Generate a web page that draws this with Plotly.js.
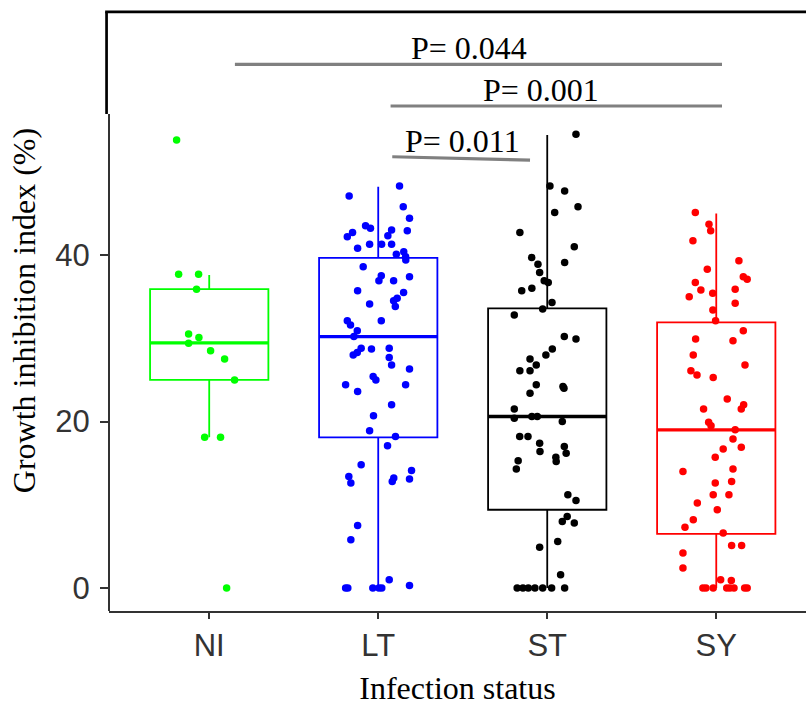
<!DOCTYPE html>
<html>
<head>
<meta charset="utf-8">
<script src="https://cdn.plot.ly/plotly-3.0.1.min.js"></script>
<style>html,body{margin:0;padding:0;background:#fff;}#chart{width:806px;height:706px;}</style>
</head>
<body>
<div id="chart"></div>
<script>
// ---- data ----
const categories = ['NI', 'LT', 'ST', 'SY'];
const groupColors = ['#00FF00', '#0000FF', '#000000', '#FF0000'];

const niValues = [53.8, 37.7, 37.7, 35.9, 30.5, 30.1, 29.4, 28.5, 27.5, 25.0, 18.1, 18.1, 0];
const niJitter = [-0.193, -0.181, -0.063, -0.075, -0.122, -0.061, -0.122, 0.008, 0.091, 0.150, -0.027, 0.067, 0.103];

const ltValues = [48.3, 47.1, 45.8, 44.4, 42.9, 43.5, 43.2, 43.0, 42.7, 42.2, 42.3, 41.3, 41.3, 41.3, 40.8, 40.1, 40.4, 39.8, 39.4, 38.6,
  37.5, 36.9, 36.9, 37.4, 35.7, 35.5, 34.8, 34.5, 33.8, 34.1, 32.1, 32.1, 31.6, 30.9, 30.2, 28.8, 28.7, 28.8, 28.3, 28.0,
  27.7, 26.8, 26.3, 25.4, 25.0, 24.4, 23.6, 24.4, 22.0, 20.7, 18.9, 18.2, 17.1, 14.8, 13.4, 12.6, 12.8, 13.2, 14.1, 13.1,
  7.5, 5.8, 1.0, 0.3, 0, 0, 0, 0, 0];
const ltJitter = [0.126, -0.172, 0.148, 0.185, 0.172, -0.075, -0.046, 0.079, -0.152, -0.183, 0.057, -0.051, 0.020, 0.079, -0.122, 0.107, 0.151, 0.162, 0.163, -0.089,
  0.018, 0.004, 0.091, 0.185, -0.122, 0.150, 0.112, 0.091, 0.101, -0.051, 0.018, -0.183, -0.164, -0.124, -0.144, -0.101, -0.040, 0.065, -0.124, -0.148,
  0.065, 0.079, 0.185, -0.030, -0.014, -0.193, -0.122, 0.162, 0.079, -0.028, -0.051, 0.102, 0.055, -0.101, -0.174, -0.162, 0.083, 0.092, 0.197, 0.185,
  -0.122, -0.162, 0.065, 0.185, -0.193, -0.180, -0.032, 0.004, 0.021];

const stValues = [54.5, 48.3, 47.7, 45.8, 45.1, 42.7, 41.0, 39.7, 39.1, 38.9, 37.9, 36.9, 36.7, 36.0, 35.7, 34.3, 33.5, 32.8, 30.2, 29.9,
  28.7, 28.0, 27.5, 26.8, 26.1, 26.1, 24.4, 24.2, 24.0, 23.4, 21.5, 20.4, 20.6, 20.6, 20.0, 18.2, 18.2, 17.4, 16.4, 17.0,
  16.2, 15.7, 15.2, 15.3, 14.3, 11.2, 10.5, 8.6, 8.0, 7.8, 5.6, 4.9, 1.6, 0, 0, 0, 0, 0, 0, 0];
const stJitter = [0.170, 0.016, 0.103, 0.182, 0.044, -0.162, 0.160, -0.092, 0.103, -0.055, -0.045, -0.018, 0.006, -0.091, -0.151, 0.028, -0.027, -0.195, 0.101, 0.170,
  0.030, -0.008, -0.102, -0.065, -0.162, -0.102, -0.065, 0.093, 0.099, -0.102, -0.195, -0.195, -0.091, -0.059, 0.089, -0.163, -0.114, -0.045, -0.043, 0.101,
  0.112, 0.051, 0.053, -0.172, -0.183, 0.122, 0.170, 0.118, 0.089, 0.160, 0.062, -0.045, 0.079, -0.178, -0.144, -0.112, -0.073, -0.027, 0.026, 0.103];

const syValues = [45.1, 43.7, 42.9, 41.7, 39.3, 38.3, 37.4, 37.1, 36.7, 35.9, 35.8, 35.4, 35.0, 34.2, 33.4, 32.1, 30.9, 29.9, 29.7, 28.0,
  26.8, 26.1, 25.6, 25.3, 22.7, 22.0, 21.5, 21.5, 19.9, 19.5, 19.0, 17.9, 16.9, 16.7, 15.7, 14.0, 14.3, 12.8, 12.6, 11.2,
  11.2, 10.2, 9.4, 8.2, 7.3, 6.6, 5.1, 5.1, 4.2, 2.4, 1.0, 0.9, 0, 0, 0, 0, 0, 0, 0, 0];
const syJitter = [-0.124, -0.043, -0.033, -0.138, 0.134, -0.053, 0.160, 0.183, -0.124, 0.112, -0.091, -0.021, -0.160, 0.112, -0.020, -0.004, 0.160, -0.122, 0.099, -0.136,
  0.170, -0.150, -0.114, -0.018, 0.065, 0.162, 0.148, -0.075, -0.045, -0.031, 0.112, 0.099, 0.148, 0.041, -0.006, -0.197, 0.099, 0.091, -0.006, -0.018,
  0.075, -0.112, 0.006, -0.136, -0.185, 0.041, 0.091, 0.150, -0.197, -0.197, 0.026, 0.089, -0.079, -0.061, -0.018, 0.062, 0.081, 0.105, 0.168, 0.183];

// box statistics as drawn
const boxQ1 = [25.0, 18.1, 9.4, 6.5];
const boxMedian = [29.45, 30.2, 20.6, 19.0];
const boxQ3 = [35.9, 39.65, 33.6, 31.9];
const boxLower = [18.1, 0, 0, 0];
const boxUpper = [37.6, 48.2, 54.4, 45.0];

// pairwise comparisons
const pLabels = ['P= 0.044', 'P= 0.001', 'P= 0.011'];
const pFromX = [0.152, 1.073, 1.083];
const pToX = [3.034, 3.034, 1.898];
const pFromY = [62.9, 57.9, 51.8];
const pToY = [62.9, 57.9, 51.4];
const pTextX = [1.537, 1.962, 1.501];

// ---- build traces ----
const allValues = [niValues, ltValues, stValues, syValues];
const allJitter = [niJitter, ltJitter, stJitter, syJitter];
const boxWidth = 0.7;
const traces = [];

categories.forEach((c, i) => {
  traces.push({
    type: 'box', name: c, x: [i],
    q1: [boxQ1[i]], median: [boxMedian[i]], q3: [boxQ3[i]],
    lowerfence: [boxLower[i]], upperfence: [boxUpper[i]],
    width: boxWidth, whiskerwidth: 0, boxpoints: false,
    line: {color: groupColors[i], width: 1.8},
    fillcolor: 'rgba(255,255,255,0)', showlegend: false, hoverinfo: 'skip'
  });
  traces.push({
    type: 'scatter', mode: 'lines', x: [i - boxWidth / 2, i + boxWidth / 2], y: [boxMedian[i], boxMedian[i]],
    line: {color: groupColors[i], width: 3.4}, showlegend: false, hoverinfo: 'skip'
  });
});
categories.forEach((c, i) => {
  traces.push({
    type: 'scatter', mode: 'markers', name: c,
    x: allValues[i].map((v, k) => i + allJitter[i][k]), y: allValues[i],
    marker: {color: groupColors[i], size: 7.5, line: {width: 0}},
    showlegend: false, hoverinfo: 'skip'
  });
});
pLabels.forEach((lab, k) => {
  traces.push({
    type: 'scatter', mode: 'lines', x: [pFromX[k], pToX[k]], y: [pFromY[k], pToY[k]],
    line: {color: '#808080', width: 3.2}, showlegend: false, hoverinfo: 'skip'
  });
});

const annotations = pLabels.map((lab, k) => ({
  text: lab, x: pTextX[k], y: Math.max(pFromY[k], pToY[k]), xref: 'x', yref: 'y',
  xanchor: 'center', yanchor: 'bottom', showarrow: false, yshift: -3, borderpad: 0,
  font: {family: '"Liberation Serif", "Times New Roman", serif', size: 32, color: '#000'}
}));

const layout = {
  width: 806, height: 706,
  margin: {l: 109, r: 0, t: 10, b: 95},
  paper_bgcolor: '#fff', plot_bgcolor: '#fff',
  showlegend: false,
  xaxis: {
    range: [-0.593, 3.531], tickvals: [0, 1, 2, 3], ticktext: categories,
    showgrid: false, zeroline: false, showline: true, linecolor: '#333', linewidth: 2,
    ticks: 'outside', ticklen: 6, tickwidth: 2, tickcolor: '#333',
    tickfont: {family: '"Liberation Sans", Arial, sans-serif', size: 31, color: '#333'},
    title: {text: 'Infection status', font: {family: '"Liberation Serif", "Times New Roman", serif', size: 32, color: '#000'}}
  },
  yaxis: {
    range: [-2.763, 69.43], tickvals: [0, 20, 40],
    showgrid: false, zeroline: false, showline: false,
    ticks: 'outside', ticklen: 8, tickwidth: 2, tickcolor: '#333', ticklabelstandoff: 4,
    tickfont: {family: '"Liberation Sans", Arial, sans-serif', size: 31, color: '#333'},
    title: {text: 'Growth inhibition index (%)', font: {family: '"Liberation Serif", "Times New Roman", serif', size: 32, color: '#000'}}
  },
  annotations: annotations,
  shapes: [
    // main y axis line
    {type: 'line', xref: 'paper', yref: 'paper', x0: 0, x1: 0, y0: 0, y1: 0.827, line: {color: '#333', width: 2}},
    // frame around the upper comparison panel
    {type: 'line', xref: 'paper', yref: 'paper', x0: -0.0035, x1: -0.0035, y0: 0.827, y1: 0.997, line: {color: '#000', width: 2.7}},
    {type: 'line', xref: 'paper', yref: 'paper', x0: -0.0055, x1: 1.0, y0: 0.997, y1: 0.997, line: {color: '#000', width: 2.7}}
  ]
};

Plotly.newPlot('chart', traces, layout, {staticPlot: true, displayModeBar: false});
</script>
</body>
</html>
